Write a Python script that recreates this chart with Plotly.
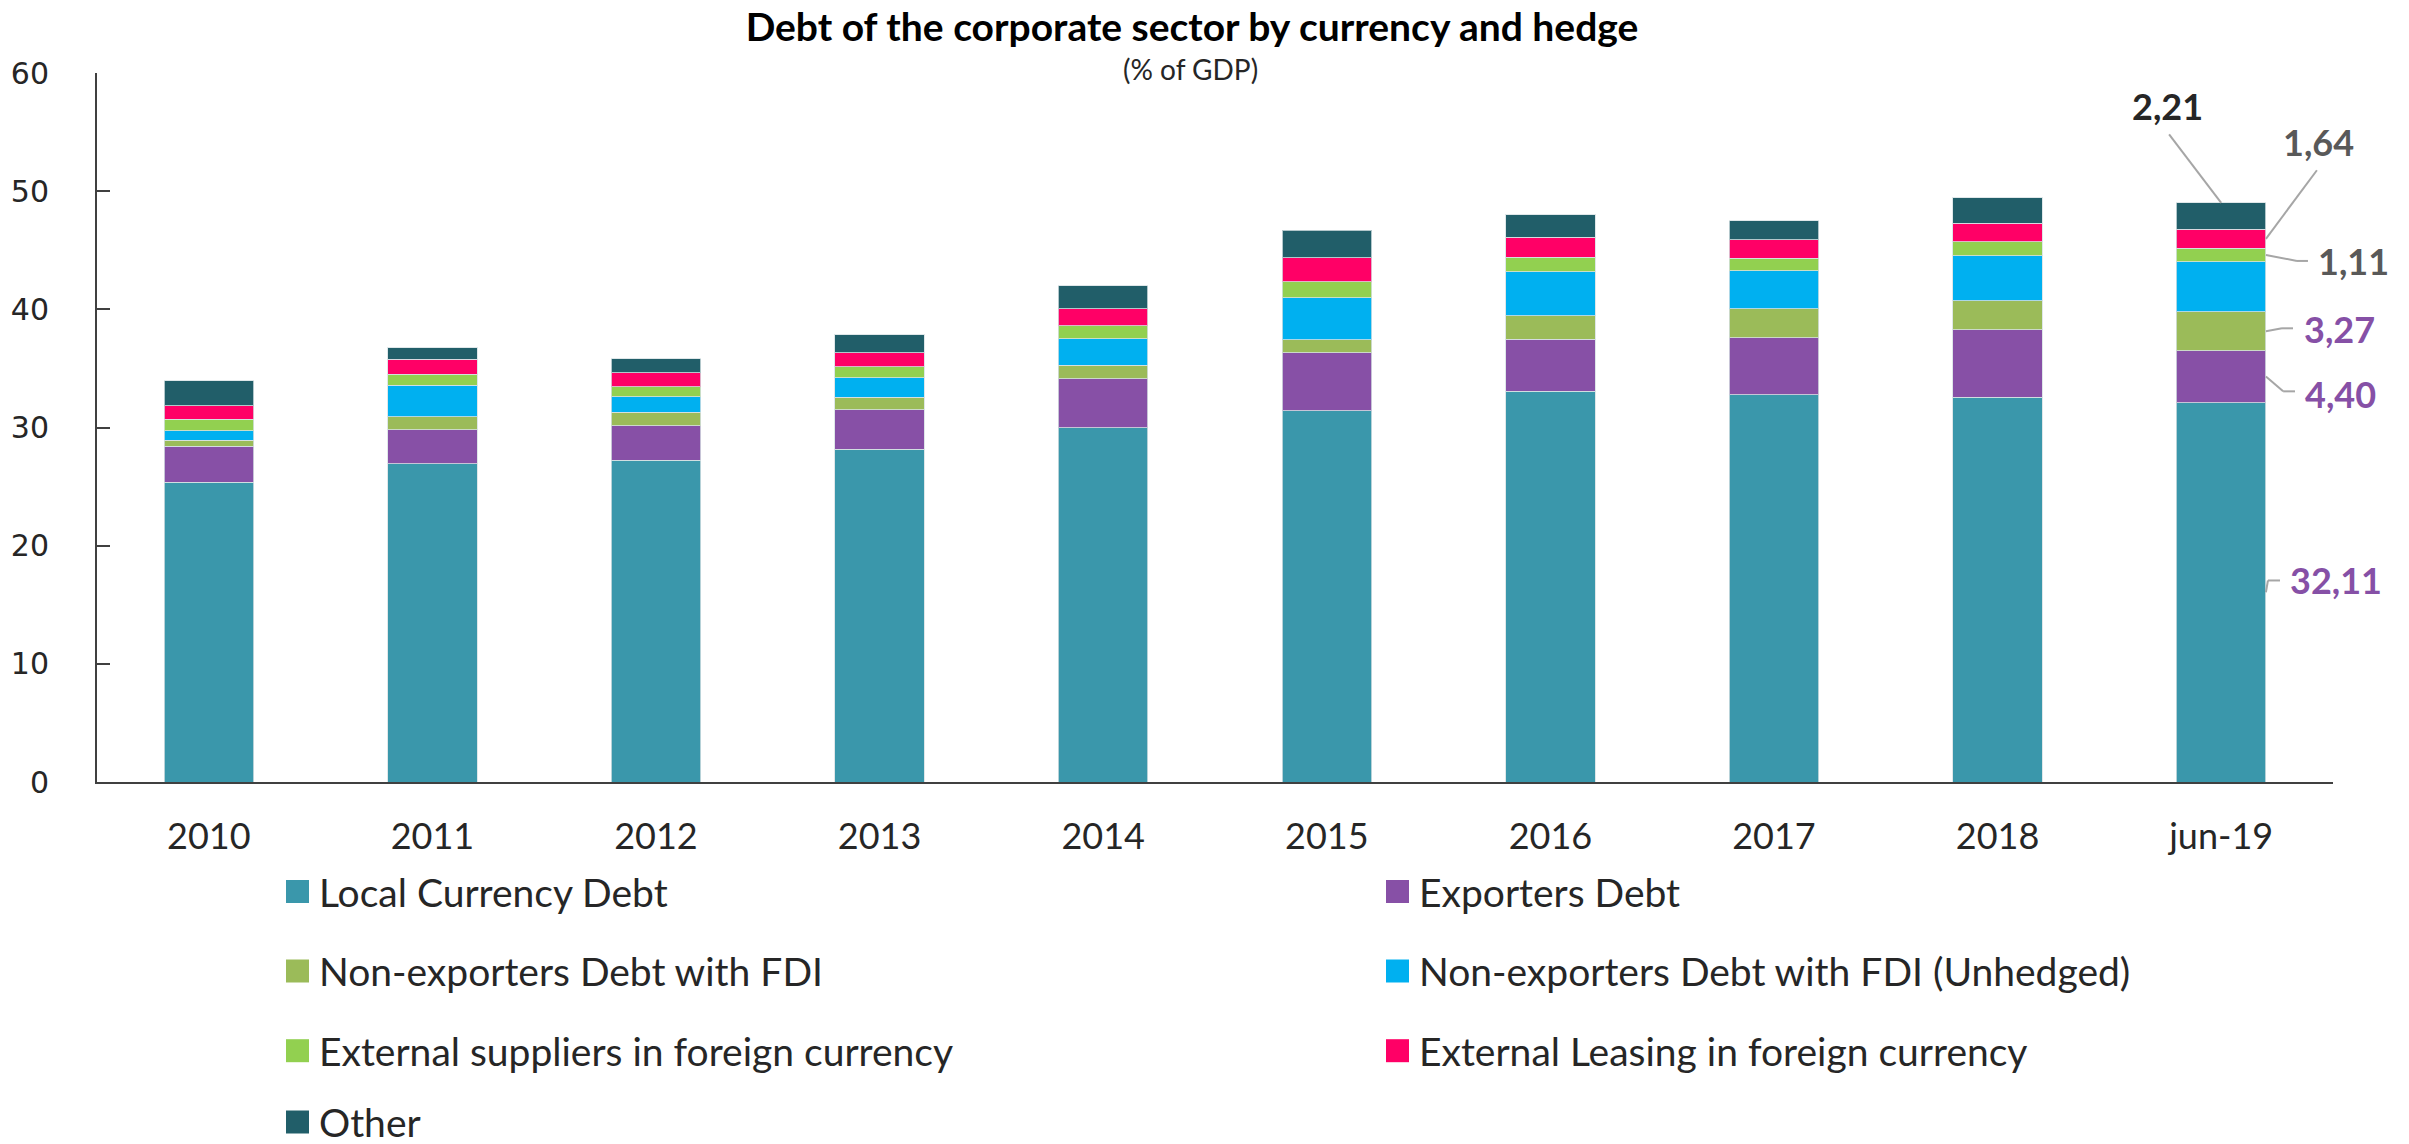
import plotly.graph_objects as go

# Corporate-sector debt by currency and hedge, % of GDP
categories = ["2010", "2011", "2012", "2013", "2014", "2015", "2016", "2017", "2018", "jun-19"]

local_currency = [25.35, 26.95, 27.21, 28.14, 30.00, 31.40, 33.05, 32.79, 32.54, 32.11]
exporters = [3.07, 2.85, 2.93, 3.35, 4.11, 4.91, 4.42, 4.79, 5.72, 4.40]
non_exp_fdi = [0.51, 1.13, 1.15, 1.07, 1.14, 1.13, 2.00, 2.49, 2.48, 3.27]
non_exp_fdi_unhedged = [0.78, 2.65, 1.30, 1.64, 2.25, 3.52, 3.69, 3.18, 3.78, 4.26]
ext_suppliers = [0.97, 0.93, 0.88, 0.93, 1.10, 1.36, 1.25, 1.07, 1.18, 1.11]
ext_leasing = [1.18, 1.27, 1.15, 1.18, 1.47, 2.06, 1.71, 1.58, 1.58, 1.64]
other = [2.08, 0.99, 1.18, 1.52, 1.91, 2.31, 1.87, 1.61, 2.15, 2.21]

series_names = [
    "Local Currency Debt",
    "Exporters Debt",
    "Non-exporters Debt with FDI",
    "Non-exporters Debt with FDI (Unhedged)",
    "External suppliers in foreign currency",
    "External Leasing in foreign currency",
    "Other",
]
series_values = [local_currency, exporters, non_exp_fdi, non_exp_fdi_unhedged,
                 ext_suppliers, ext_leasing, other]
series_colors = ["#3A97AB", "#8750A6", "#9BBB59", "#00B0F0", "#92D050", "#FF0066", "#215E69"]

y_ticks = [0, 10, 20, 30, 40, 50, 60]

W, H = 2409, 1144
M_L, M_R, M_T, M_B = 97, 76, 73, 362
PLOT_W = W - M_L - M_R
PLOT_H = H - M_T - M_B

TEXT = "#262626"
GREY_LABEL = "#595959"
PURPLE_LABEL = "#8650A6"
LEADER = "#A6A6A6"

fig = go.Figure()
for name, vals, col in zip(series_names, series_values, series_colors):
    fig.add_trace(go.Bar(
        x=categories, y=vals, name=name,
        marker=dict(color=col, line=dict(color="rgba(215,225,228,0.8)", width=1)),
        showlegend=False,
    ))


def fmt(v):
    return f"{v:.2f}".replace(".", ",")


def px_x(p):
    return (p - M_L) / PLOT_W


def px_y(p):
    return (H - M_B - p) / PLOT_H


shapes = []
annotations = []

# Leader-line labels on the last bar
last = len(categories) - 1
edge = last + 0.2  # right edge of the bar (bar width 0.4)
cum = []
acc = 0
for vals in series_values:
    cum.append((acc, acc + vals[last]))
    acc += vals[last]
total_last = acc


def seg(x0, y0, x1, y1):
    shapes.append(dict(type="line", xref="x", yref="y", x0=x0, y0=y0, x1=x1, y1=y1,
                       line=dict(color=LEADER, width=2)))


def mid(i):
    return (cum[i][0] + cum[i][1]) / 2


# Other -> above the bar
seg(last, total_last, last - 0.233, total_last + 5.8)
annotations.append(dict(x=last - 0.238, y=total_last + 8.2, xref="x", yref="y",
                        text=f"<b>{fmt(other[last])}</b>", showarrow=False,
                        xanchor="center", yanchor="middle",
                        font=dict(family="Lato", size=36, color=TEXT)))
# External leasing
seg(edge, mid(5), last + 0.428, mid(5) + 5.8)
annotations.append(dict(x=last + 0.433, y=mid(5) + 8.2, xref="x", yref="y",
                        text=f"<b>{fmt(ext_leasing[last])}</b>", showarrow=False,
                        xanchor="center", yanchor="middle",
                        font=dict(family="Lato", size=36, color=GREY_LABEL)))
# External suppliers
seg(edge, mid(4), last + 0.339, mid(4) - 0.5)
seg(last + 0.339, mid(4) - 0.5, last + 0.388, mid(4) - 0.5)
annotations.append(dict(x=last + 0.425, y=mid(4) - 0.5, xref="x", yref="y",
                        text=f"<b>{fmt(ext_suppliers[last])}</b>", showarrow=False,
                        xanchor="left", yanchor="middle",
                        font=dict(family="Lato", size=36, color=GREY_LABEL)))
# Non-exporters with FDI
seg(edge, mid(2), last + 0.272, mid(2) + 0.25)
seg(last + 0.272, mid(2) + 0.25, last + 0.321, mid(2) + 0.25)
annotations.append(dict(x=last + 0.36, y=mid(2) + 0.2, xref="x", yref="y",
                        text=f"<b>{fmt(non_exp_fdi[last])}</b>", showarrow=False,
                        xanchor="left", yanchor="middle",
                        font=dict(family="Lato", size=36, color=PURPLE_LABEL)))
# Exporters
seg(edge, mid(1), last + 0.277, mid(1) - 1.25)
seg(last + 0.277, mid(1) - 1.25, last + 0.330, mid(1) - 1.25)
annotations.append(dict(x=last + 0.368, y=mid(1) - 1.45, xref="x", yref="y",
                        text=f"<b>{fmt(exporters[last])}</b>", showarrow=False,
                        xanchor="left", yanchor="middle",
                        font=dict(family="Lato", size=36, color=PURPLE_LABEL)))
# Local currency
seg(edge, mid(0), last + 0.209, mid(0) + 1.0)
seg(last + 0.209, mid(0) + 1.0, last + 0.263, mid(0) + 1.0)
annotations.append(dict(x=last + 0.30, y=mid(0) + 1.0, xref="x", yref="y",
                        text=f"<b>{fmt(local_currency[last])}</b>", showarrow=False,
                        xanchor="left", yanchor="middle",
                        font=dict(family="Lato", size=36, color=PURPLE_LABEL)))

# Legend: two columns, four rows
row_y = [891.5, 971, 1050.7, 1122]
col_x = [286, 1386]
sw = 23
for i, (name, col) in enumerate(zip(series_names, series_colors)):
    r, c = divmod(i, 2)
    cx, cy = col_x[c], row_y[r]
    shapes.append(dict(type="rect", xref="paper", yref="paper",
                       x0=px_x(cx), x1=px_x(cx + sw),
                       y0=px_y(cy + sw / 2), y1=px_y(cy - sw / 2),
                       fillcolor=col, line=dict(width=0)))
    annotations.append(dict(x=px_x(cx + sw + 8), y=px_y(cy), xref="paper", yref="paper",
                            text=name, showarrow=False, xanchor="left", yanchor="middle",
                            font=dict(family="Lato", size=39, color=TEXT)))

# Subtitle
annotations.append(dict(x=px_x(1190), y=px_y(69), xref="paper", yref="paper",
                        text="(% of GDP)", showarrow=False, xanchor="center", yanchor="middle",
                        font=dict(family="Lato", size=28, color=TEXT)))
# Page number
annotations.append(dict(x=px_x(2344), y=px_y(1136), xref="paper", yref="paper",
                        text="12", showarrow=False, xanchor="center", yanchor="top",
                        font=dict(family="Lato", size=36, color=TEXT)))

fig.update_layout(
    width=W, height=H,
    margin=dict(l=M_L, r=M_R, t=M_T, b=M_B, autoexpand=False),
    paper_bgcolor="white", plot_bgcolor="white",
    barmode="stack", bargap=0.6,
    title=dict(text="<b>Debt of the corporate sector by currency and hedge</b>",
               x=1192 / W, xanchor="center", y=1 - 27 / H, yanchor="middle",
               xref="container", yref="container",
               font=dict(family="Lato", size=39, color="#000000")),
    xaxis=dict(
        type="category", range=[-0.5, len(categories) - 0.5],
        showline=True, linecolor="#404040", linewidth=2,
        ticks="", showgrid=False, zeroline=False,
        tickfont=dict(family="Lato", size=36, color=TEXT),
        ticklabelstandoff=22,
    ),
    yaxis=dict(
        range=[0, 60], tickvals=y_ticks,
        showline=True, linecolor="#404040", linewidth=2,
        ticks="inside", ticklen=13, tickwidth=2, tickcolor="#404040",
        showgrid=False, zeroline=False,
        tickfont=dict(family="DejaVu Sans", size=30, color=TEXT),
        ticklabelstandoff=40,
    ),
    shapes=shapes,
    annotations=annotations,
)

fig.write_html("out.html")
